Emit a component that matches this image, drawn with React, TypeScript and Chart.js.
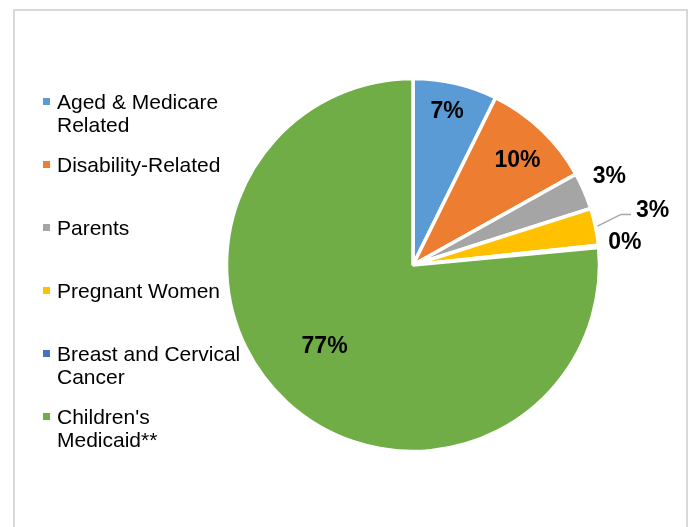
import React, { useEffect, useRef } from "react";
import { Chart, registerables } from "chart.js";

Chart.register(...registerables);

const categories = [
  "Aged & Medicare Related",
  "Disability-Related",
  "Parents",
  "Pregnant Women",
  "Breast and Cervical Cancer",
  "Children's Medicaid**",
];
const shares = [7.3, 9.6, 3.2, 3.2, 0.2, 76.5];
const colors = ["#5B9BD5", "#ED7D31", "#A5A5A5", "#FFC000", "#4472C4", "#70AD47"];

// label placement (style): radial factor, angle nudge (deg), leader line flag
const LABEL_RADIUS = [0.85, 0.8, 1.158, 1.32, 1.143, 0.638];
const LABEL_ANGLE_SHIFT = [-0.7, 0.9, -1.2, -1.4, -0.7, 5.7];
const LEADER = [false, false, false, true, false, false];

const FONT = '"Liberation Sans", Arial, sans-serif';

const labelPlugin = {
  id: "sliceLabels",
  afterDatasetsDraw(chart: any) {
    const ctx = chart.ctx;
    const meta = chart.getDatasetMeta(0);
    ctx.save();
    ctx.font = `bold 23px ${FONT}`;
    ctx.textAlign = "center";
    ctx.textBaseline = "alphabetic";
    meta.data.forEach((arc: any, i: number) => {
      const p = arc.getProps(["x", "y", "startAngle", "endAngle", "outerRadius"], true);
      const baseMid = (p.startAngle + p.endAngle) / 2;
      const mid = baseMid + (LABEL_ANGLE_SHIFT[i] * Math.PI) / 180;
      const d = p.outerRadius * LABEL_RADIUS[i];
      const lx = p.x + Math.cos(mid) * d;
      const ly = p.y + Math.sin(mid) * d;
      const text = Math.round(shares[i]) + "%";
      if (LEADER[i]) {
        const w = ctx.measureText(text).width;
        const left = lx - w / 2;
        const sx = p.x + Math.cos(baseMid) * (p.outerRadius + 2);
        const sy = p.y + Math.sin(baseMid) * (p.outerRadius + 2);
        ctx.beginPath();
        ctx.strokeStyle = "#A6A6A6";
        ctx.lineWidth = 1.5;
        ctx.moveTo(sx, sy);
        ctx.lineTo(left - 15, ly + 6);
        ctx.lineTo(left - 5, ly + 6);
        ctx.stroke();
      }
      ctx.fillStyle = "#000";
      ctx.fillText(text, lx, ly + 8.2);
    });
    ctx.restore();
  },
};

export default function App() {
  const ref = useRef<HTMLCanvasElement | null>(null);
  useEffect(() => {
    if (!ref.current) return;
    const chart = new Chart(ref.current, {
      type: "pie",
      data: {
        labels: categories,
        datasets: [
          {
            data: shares,
            backgroundColor: colors,
            borderColor: "#FFFFFF",
            borderWidth: 3.5,
          },
        ],
      },
      options: {
        responsive: false,
        animation: false,
        radius: 186.5,
        layout: { padding: { left: 228, right: 96, top: 80, bottom: 77 } },
        plugins: {
          legend: { display: false },
          tooltip: { enabled: false },
          title: { display: false },
        },
      } as any,
      plugins: [labelPlugin],
    });
    return () => chart.destroy();
  }, []);

  return (
    <div
      style={{
        position: "absolute",
        left: 0,
        top: 0,
        width: 694,
        height: 527,
        overflow: "hidden",
        background: "#fff",
      }}
    >
      <div
        style={{
          position: "absolute",
          left: 13,
          top: 9,
          width: 671,
          height: 600,
          border: "2px solid #D9D9D9",
          boxSizing: "content-box",
        }}
      />
      <canvas
        ref={ref}
        width={694}
        height={527}
        style={{ position: "absolute", left: 0, top: 0, width: 694, height: 527 }}
      />
      {categories.map((c, i) => (
        <div
          key={c}
          style={{
            position: "absolute",
            left: 43,
            top: 90.4 + i * 63,
            width: 210,
            fontFamily: FONT,
            fontSize: 21,
            lineHeight: "23px",
            color: "#000",
          }}
        >
          <span
            style={{
              position: "absolute",
              left: 0,
              top: 8,
              width: 7,
              height: 7,
              background: colors[i],
            }}
          />
          <div style={{ marginLeft: 14, width: 192 }}>{c}</div>
        </div>
      ))}
    </div>
  );
}
